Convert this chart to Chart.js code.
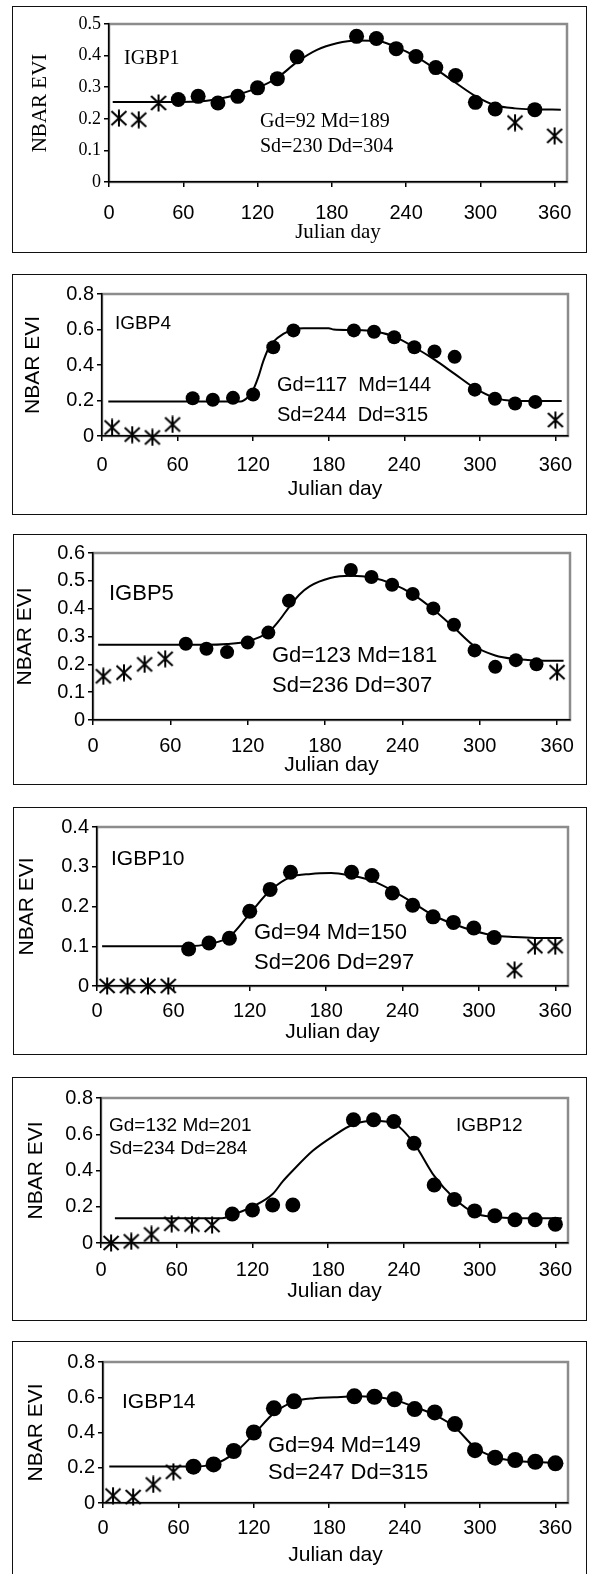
<!DOCTYPE html>
<html>
<head>
<meta charset="utf-8">
<script src="https://cdn.jsdelivr.net/npm/chart.js@4.4.1/dist/chart.umd.min.js"></script>
<style>
  body { margin: 0; background: #fff; width: 591px; height: 1574px; position: relative; overflow: hidden; }
  .box { position: absolute; border: 1.5px solid #111; box-sizing: border-box; }
  canvas { position: absolute; }
  .note { position: absolute; white-space: pre; color: #000; line-height: 1; transform: translateY(-50%); }
</style>
</head>
<body>
<script>
// shared axis ticks
const xTicks = [0, 60, 120, 180, 240, 300, 360];
const yTicksP1 = [0, 0.1, 0.2, 0.3, 0.4, 0.5];
const yTicksP3 = [0, 0.1, 0.2, 0.3, 0.4, 0.5, 0.6];
const yTicksP4 = [0, 0.1, 0.2, 0.3, 0.4];
const yTicksP8 = [0, 0.2, 0.4, 0.6, 0.8];

// IGBP1
const p1StarDays = [8, 24, 40, 328, 360];
const p1StarEvi = [0.202, 0.197, 0.25, 0.188, 0.146];
const p1DotDays = [56, 72, 88, 104, 120, 136, 152, 200, 216, 232, 248, 264, 280, 296, 312, 344];
const p1DotEvi = [0.261, 0.271, 0.25, 0.271, 0.298, 0.327, 0.396, 0.461, 0.454, 0.422, 0.397, 0.362, 0.337, 0.252, 0.231, 0.229];
const p1CurveDays = [3, 40, 72, 88, 104, 120, 136, 152, 168, 184, 200, 216, 232, 248, 264, 280, 296, 312, 328, 344, 365];
const p1CurveEvi = [0.253, 0.253, 0.255, 0.263, 0.277, 0.298, 0.33, 0.38, 0.418, 0.439, 0.448, 0.447, 0.427, 0.397, 0.357, 0.314, 0.272, 0.243, 0.233, 0.23, 0.229];

// IGBP4
const p2StarDays = [8, 24, 40, 56, 360];
const p2StarEvi = [0.048, 0.008, -0.008, 0.065, 0.09];
const p2DotDays = [72, 88, 104, 120, 136, 152, 200, 216, 232, 248, 264, 280, 296, 312, 328, 344];
const p2DotEvi = [0.213, 0.204, 0.215, 0.234, 0.5, 0.595, 0.595, 0.587, 0.556, 0.5, 0.476, 0.446, 0.261, 0.21, 0.183, 0.192];
const p2CurveDays = [5, 110, 116, 120, 124, 128, 132, 136, 144, 152, 160, 180, 184, 200, 216, 232, 248, 264, 280, 296, 312, 328, 365];
const p2CurveEvi = [0.195, 0.195, 0.22, 0.26, 0.33, 0.42, 0.49, 0.53, 0.575, 0.6, 0.607, 0.607, 0.6, 0.597, 0.59, 0.56, 0.5, 0.43, 0.35, 0.27, 0.215, 0.197, 0.197];

// IGBP5
const p3StarDays = [8, 24, 40, 56, 360];
const p3StarEvi = [0.157, 0.17, 0.2, 0.22, 0.172];
const p3DotDays = [72, 88, 104, 120, 136, 152, 200, 216, 232, 248, 264, 280, 296, 312, 328, 344];
const p3DotEvi = [0.274, 0.256, 0.244, 0.278, 0.314, 0.428, 0.539, 0.514, 0.486, 0.453, 0.401, 0.342, 0.25, 0.191, 0.215, 0.2];
const p3CurveDays = [4, 88, 104, 120, 136, 144, 152, 160, 168, 184, 200, 216, 232, 248, 264, 280, 296, 312, 328, 344, 365];
const p3CurveEvi = [0.27, 0.27, 0.273, 0.283, 0.315, 0.355, 0.405, 0.45, 0.48, 0.51, 0.518, 0.512, 0.49, 0.452, 0.397, 0.332, 0.265, 0.232, 0.219, 0.214, 0.213];

// IGBP10
const p4StarDays = [8, 24, 40, 56, 328, 344, 360];
const p4StarEvi = [0, 0, 0, 0, 0.04, 0.1, 0.1];
const p4DotDays = [72, 88, 104, 120, 136, 152, 200, 216, 232, 248, 264, 280, 296, 312];
const p4DotEvi = [0.093, 0.108, 0.12, 0.188, 0.243, 0.286, 0.286, 0.278, 0.234, 0.203, 0.174, 0.16, 0.146, 0.122];
const p4CurveDays = [4, 72, 88, 104, 120, 136, 152, 168, 184, 200, 216, 232, 248, 264, 280, 296, 312, 328, 344, 365];
const p4CurveEvi = [0.1, 0.1, 0.106, 0.124, 0.182, 0.24, 0.274, 0.282, 0.284, 0.277, 0.265, 0.24, 0.21, 0.178, 0.156, 0.139, 0.127, 0.123, 0.121, 0.121];

// IGBP12
const p5StarDays = [8, 24, 40, 56, 72, 88];
const p5StarEvi = [0, 0.009, 0.047, 0.106, 0.102, 0.099];
const p5DotDays = [104, 120, 136, 152, 200, 216, 232, 248, 264, 280, 296, 312, 328, 344, 360];
const p5DotEvi = [0.16, 0.182, 0.21, 0.21, 0.68, 0.68, 0.67, 0.55, 0.32, 0.24, 0.177, 0.15, 0.128, 0.128, 0.104];
const p5CurveDays = [11, 96, 104, 120, 136, 144, 152, 168, 184, 200, 216, 232, 248, 264, 280, 296, 312, 328, 365];
const p5CurveEvi = [0.136, 0.136, 0.155, 0.2, 0.27, 0.34, 0.4, 0.51, 0.59, 0.655, 0.675, 0.66, 0.55, 0.37, 0.245, 0.165, 0.143, 0.137, 0.137];

// IGBP14
const p6StarDays = [8, 24, 40, 56];
const p6StarEvi = [0.042, 0.034, 0.105, 0.177];
const p6DotDays = [72, 88, 104, 120, 136, 152, 200, 216, 232, 248, 264, 280, 296, 312, 328, 344, 360];
const p6DotEvi = [0.206, 0.219, 0.295, 0.4, 0.537, 0.577, 0.605, 0.603, 0.588, 0.533, 0.514, 0.448, 0.3, 0.257, 0.244, 0.234, 0.225];
const p6CurveDays = [5, 72, 88, 104, 120, 136, 152, 168, 184, 200, 216, 232, 248, 264, 280, 296, 312, 328, 344, 365];
const p6CurveEvi = [0.207, 0.207, 0.219, 0.28, 0.39, 0.51, 0.575, 0.595, 0.6, 0.605, 0.602, 0.585, 0.545, 0.5, 0.43, 0.315, 0.26, 0.24, 0.232, 0.227];

const SANS = 'Arial, "Liberation Sans", sans-serif';
const SERIF = '"Times New Roman", "Liberation Serif", serif';

// page layout: box [l,t,r,b], plot [l,t,r,b], x label centre y, "Julian day" centre y, y title centre x
const panels = [
  { box: [12, 6, 587, 253], plot: [109, 24, 567, 182], xLab: 213, jd: 232, yTitleX: 40,
    yTicks: yTicksP1, serif: true, r: 7.5,
    stars: [p1StarDays, p1StarEvi], dots: [p1DotDays, p1DotEvi], curve: [p1CurveDays, p1CurveEvi],
    notes: [['IGBP1', 124, 57, 20], ['Gd=92 Md=189', 260, 120, 20], ['Sd=230 Dd=304', 260, 145, 20]] },
  { box: [12, 274, 587, 515], plot: [102, 294, 568, 436], xLab: 465, jd: 489, yTitleX: 33,
    yTicks: yTicksP8, serif: false, r: 7,
    stars: [p2StarDays, p2StarEvi], dots: [p2DotDays, p2DotEvi], curve: [p2CurveDays, p2CurveEvi],
    notes: [['IGBP4', 115, 322, 19], ['Gd=117  Md=144', 277, 384, 20], ['Sd=244  Dd=315', 277, 414, 20]] },
  { box: [13, 534, 587, 785], plot: [93, 553, 570, 720], xLab: 746, jd: 765, yTitleX: 25,
    yTicks: yTicksP3, serif: false, r: 7,
    stars: [p3StarDays, p3StarEvi], dots: [p3DotDays, p3DotEvi], curve: [p3CurveDays, p3CurveEvi],
    notes: [['IGBP5', 109, 593, 22], ['Gd=123 Md=181', 272, 655, 22], ['Sd=236 Dd=307', 272, 685, 22]] },
  { box: [13, 807, 587, 1055], plot: [97, 827, 568, 986], xLab: 1011, jd: 1032, yTitleX: 27,
    yTicks: yTicksP4, serif: false, r: 7.5,
    stars: [p4StarDays, p4StarEvi], dots: [p4DotDays, p4DotEvi], curve: [p4CurveDays, p4CurveEvi],
    notes: [['IGBP10', 111, 857, 21], ['Gd=94 Md=150', 254, 932, 22], ['Sd=206 Dd=297', 254, 962, 22]] },
  { box: [12, 1077, 587, 1321], plot: [101, 1098, 568, 1243], xLab: 1270, jd: 1291, yTitleX: 36,
    yTicks: yTicksP8, serif: false, r: 7.5,
    stars: [p5StarDays, p5StarEvi], dots: [p5DotDays, p5DotEvi], curve: [p5CurveDays, p5CurveEvi],
    notes: [['Gd=132 Md=201', 109, 1124, 19], ['Sd=234 Dd=284', 109, 1147, 19], ['IGBP12', 456, 1124, 19]] },
  { box: [12, 1341, 587, 1590], plot: [103, 1362, 568, 1503], xLab: 1528, jd: 1555, yTitleX: 36,
    yTicks: yTicksP8, serif: false, r: 8,
    stars: [p6StarDays, p6StarEvi], dots: [p6DotDays, p6DotEvi], curve: [p6CurveDays, p6CurveEvi],
    notes: [['IGBP14', 122, 1400, 21], ['Gd=94 Md=149', 268, 1445, 22], ['Sd=247 Dd=315', 268, 1472, 22]] }
];

function asterisk(size, lw) {
  const c = document.createElement('canvas');
  c.width = size; c.height = size;
  const g = c.getContext('2d');
  g.strokeStyle = '#000';
  g.lineWidth = lw;
  g.beginPath();
  g.moveTo(size / 2, 0.5); g.lineTo(size / 2, size - 0.5);
  g.moveTo(1.5, 2); g.lineTo(size - 1.5, size - 2);
  g.moveTo(size - 1.5, 2); g.lineTo(1.5, size - 2);
  g.stroke();
  return c;
}
const starMark = asterisk(18, 2);

const plotFrame = {
  id: 'plotFrame',
  beforeDraw(chart) {
    const { ctx, chartArea: a } = chart;
    ctx.save();
    ctx.strokeStyle = '#8c8c8c';
    ctx.lineWidth = 2.5;
    ctx.strokeRect(a.left, a.top, a.right - a.left, a.bottom - a.top);
    ctx.restore();
  }
};

const pts = (xs, ys) => xs.map((x, i) => ({ x, y: ys[i] }));

panels.forEach(p => {
  const [bx, by, br, bb] = p.box;
  const [pl, pt, pr, pb] = p.plot;
  const box = document.createElement('div');
  box.className = 'box';
  Object.assign(box.style, { left: bx + 'px', top: by + 'px', width: (br - bx) + 'px', height: (bb - by) + 'px' });
  document.body.appendChild(box);

  const cv = document.createElement('canvas');
  cv.width = br - bx; cv.height = bb - by;
  Object.assign(cv.style, { left: bx + 'px', top: by + 'px', width: (br - bx) + 'px', height: (bb - by) + 'px' });
  document.body.appendChild(cv);

  const tl = 5;
  const tickFam = p.serif ? SERIF : SANS;
  const xTickSize = 20, yTickSize = p.serif ? 18 : 20, titleSize = 21;
  const xPad = 1;
  const xLine = 2 * (p.xLab - pb - tl - xPad);

  new Chart(cv, {
    type: 'scatter',
    data: {
      datasets: [
        { data: pts(p.curve[0], p.curve[1]), showLine: true, borderColor: '#000', borderWidth: 2,
          pointRadius: 0, cubicInterpolationMode: 'monotone', clip: false, order: 3 },
        { data: pts(p.dots[0], p.dots[1]), pointStyle: 'circle', pointRadius: p.r,
          backgroundColor: '#000', borderColor: '#000', borderWidth: 0, clip: false, order: 2 },
        { data: pts(p.stars[0], p.stars[1]), pointStyle: starMark, pointRadius: 9,
          backgroundColor: '#000', borderColor: '#000', clip: false, order: 1 }
      ]
    },
    options: {
      responsive: false,
      animation: false,
      devicePixelRatio: 1,
      events: [],
      layout: { padding: { left: 0, top: pt - by, right: br - pr, bottom: 0 } },
      plugins: { legend: { display: false }, tooltip: { enabled: false } },
      scales: {
        x: {
          type: 'linear', min: 0, max: 370,
          afterBuildTicks: s => { s.ticks = xTicks.map(v => ({ value: v })); },
          afterFit: s => { s.height = bb - pb; },
          border: { display: true, color: '#000', width: 1.5 },
          grid: { display: true, drawOnChartArea: false, drawTicks: true, tickLength: tl, color: '#000', lineWidth: 1.5 },
          ticks: { color: '#000', padding: xPad, maxRotation: 0, autoSkip: false,
                   font: { family: SANS, size: xTickSize, lineHeight: xLine + 'px' } },
          title: { display: true, text: 'Julian day', color: '#000',
                   font: { family: p.serif ? SERIF : SANS, size: titleSize, lineHeight: 1 },
                   padding: { top: 0, bottom: bb - p.jd - titleSize / 2 } }
        },
        y: {
          type: 'linear', min: 0, max: p.yTicks[p.yTicks.length - 1],
          afterBuildTicks: s => { s.ticks = p.yTicks.map(v => ({ value: v })); },
          afterFit: s => { s.width = pl - bx; },
          border: { display: true, color: '#000', width: 1.5 },
          grid: { display: true, drawOnChartArea: false, drawTicks: true, tickLength: tl, color: '#000', lineWidth: 1.5 },
          ticks: { color: '#000', padding: 3, callback: v => String(v),
                   font: { family: tickFam, size: yTickSize, lineHeight: 1 } },
          title: { display: true, text: 'NBAR EVI', color: '#000',
                   font: { family: p.serif ? SERIF : SANS, size: titleSize, lineHeight: 1 },
                   padding: { top: p.yTitleX - bx - titleSize / 2, bottom: 0 } }
        }
      }
    },
    plugins: [plotFrame]
  });

  p.notes.forEach(([text, x, y, size]) => {
    const d = document.createElement('div');
    d.className = 'note';
    d.textContent = text;
    Object.assign(d.style, { left: x + 'px', top: y + 'px', fontSize: size + 'px',
                             fontFamily: p.serif ? SERIF : SANS });
    document.body.appendChild(d);
  });
});
</script>
</body>
</html>
